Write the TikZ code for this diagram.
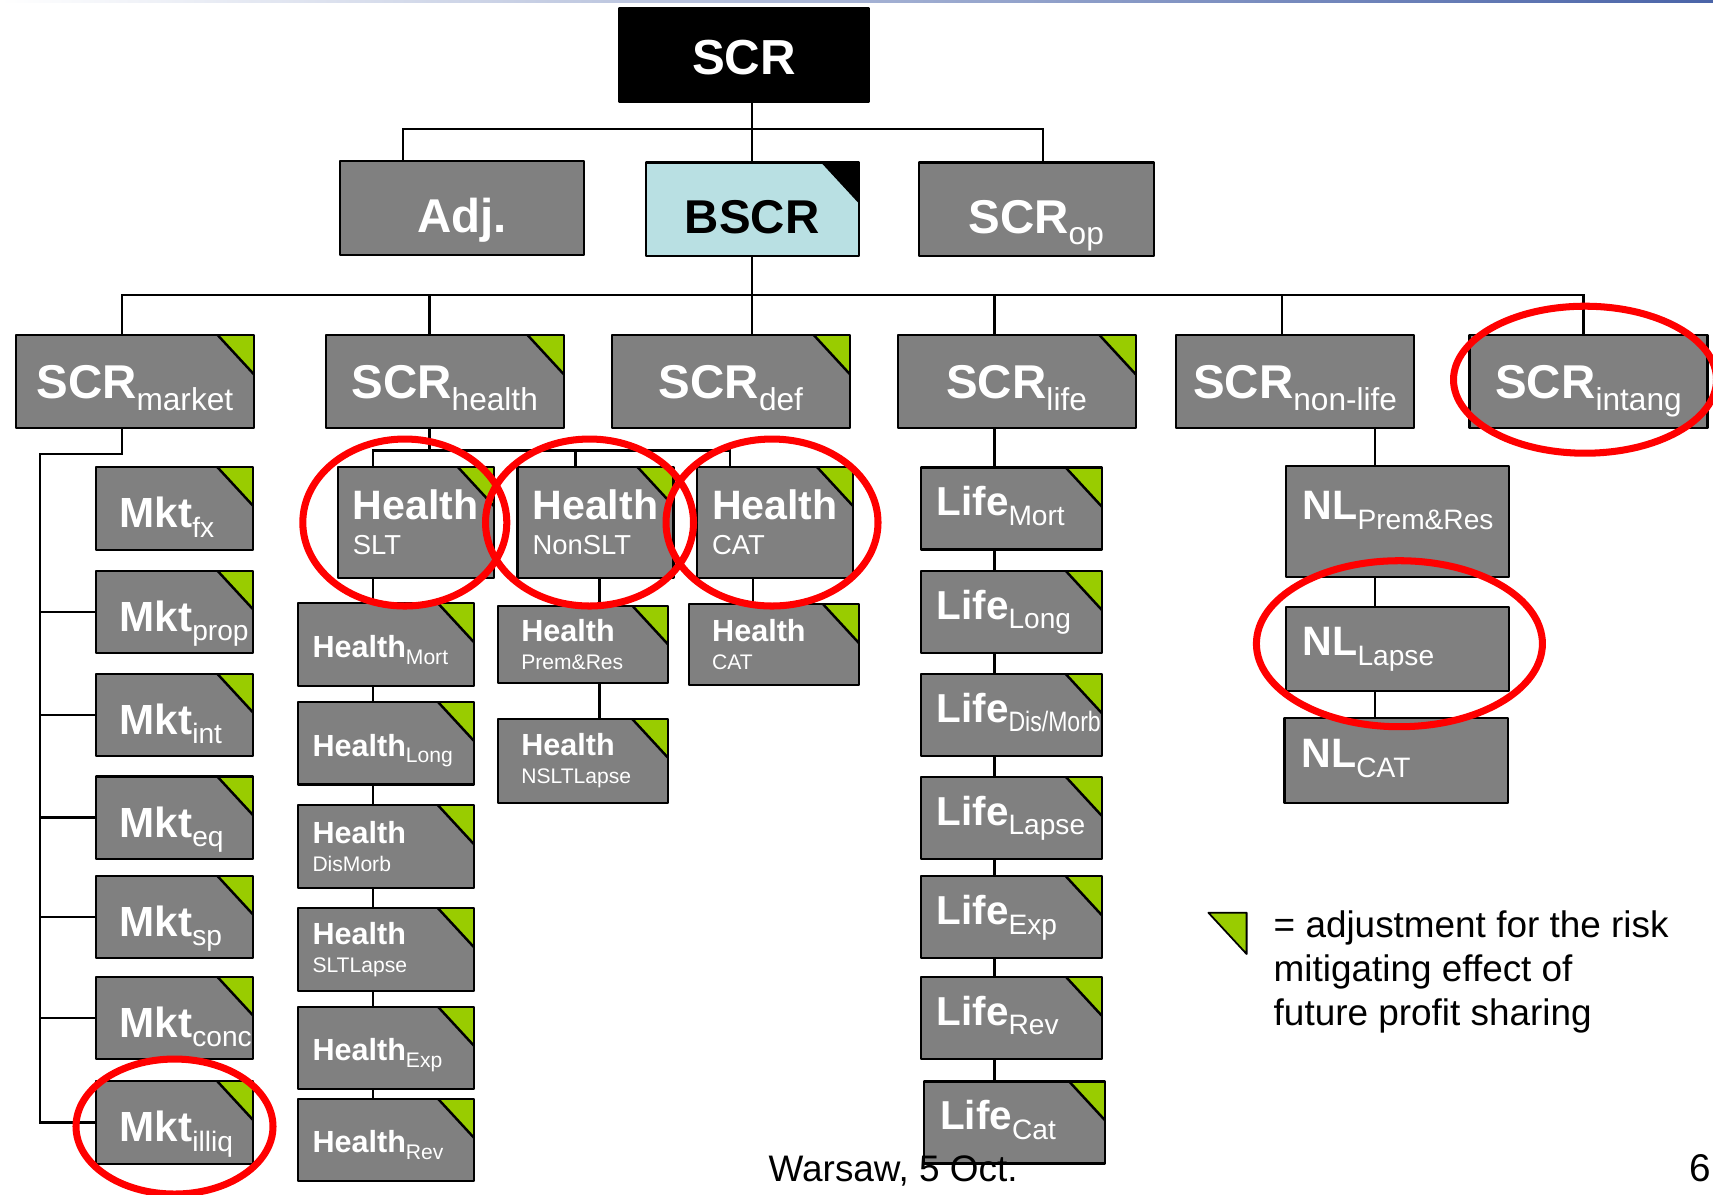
\documentclass[tikz,border=0pt]{standalone}
\usepackage{fontspec}
\setmainfont{Liberation Sans}
\usepackage{graphicx}
\usepackage{xcolor}
\usetikzlibrary{calc,backgrounds}
\definecolor{boxgray}{HTML}{808080}
\definecolor{adjgreen}{HTML}{99CC00}
\definecolor{bscrblue}{HTML}{B9E0E3}
\definecolor{ringred}{HTML}{FF0000}
\definecolor{rulerblue}{HTML}{4A64A8}
% lowered subscripts and second lines
\newcommand{\subL}[1]{\raisebox{-3.3pt}{\fontsize{9}{9}\mdseries\selectfont #1}}
\newcommand{\subM}[1]{\raisebox{-2.7pt}{\fontsize{8}{8}\mdseries\selectfont #1}}
\newcommand{\subS}[1]{\raisebox{-1.9pt}{\fontsize{6}{6}\mdseries\selectfont #1}}
\newcommand{\lineM}[1]{{\fontsize{7.8}{10}\mdseries\selectfont #1}}
\newcommand{\lineS}[1]{{\fontsize{6}{7.9}\mdseries\selectfont #1}}
\tikzset{
    every picture/.style={line cap=round,line join=round},
    corner mark/.style={path picture={
      \fill[#1] (path picture bounding box.north east) -- ++(-0.36cm,0) -- ++(0.36cm,-0.39cm) -- cycle;
      \draw[black,line width=0.7pt] ([xshift=-0.36cm]path picture bounding box.north east) -- ++(0.36cm,-0.39cm);}},
    adjusted/.style={corner mark=adjgreen},
    riskbox/.style={draw=black,fill=boxgray,line width=0.6pt,inner sep=0pt,outer sep=0pt,
      text=white,align=center},
    levelone/.style={riskbox,minimum width=2.44cm,minimum height=0.935cm,
      font=\fontsize{13.5}{16}\bfseries\selectfont,text height=13.7pt,text depth=0pt},
    leveltwo/.style={riskbox,minimum width=2.38cm,minimum height=0.93cm,
      font=\fontsize{13.5}{16}\bfseries\selectfont,text height=9.7pt,text depth=0pt},
    mktbox/.style={riskbox,adjusted,align=left,text width=1.096cm,inner xsep=0.24cm,
      minimum height=0.825cm,font=\fontsize{12}{14}\bfseries\selectfont,text height=11pt,text depth=0pt},
    lifebox/.style={riskbox,adjusted,align=left,text width=1.49cm,inner xsep=0.16cm,
      minimum height=0.82cm,font=\fontsize{11.5}{14}\bfseries\selectfont,text height=8.3pt,text depth=4.1pt},
    nlbox/.style={riskbox,align=left,text width=1.894cm,inner xsep=0.17cm,
      font=\fontsize{11.7}{14}\bfseries\selectfont,text height=8.4pt,text depth=4.4pt},
    hlead/.style={riskbox,adjusted,align=left,text width=1.26cm,inner xsep=0.15cm,
      minimum height=1.11cm,font=\fontsize{11.7}{10}\bfseries\selectfont},
    hleaf/.style={riskbox,adjusted,align=left,text width=1.47cm,inner xsep=0.145cm,
      minimum height=0.825cm,font=\fontsize{8.7}{7.9}\bfseries\selectfont},
    hnarrow/.style={text width=1.24cm,inner xsep=0.23cm},
    oneline/.style={text height=7.3pt,text depth=0pt},
    link/.style={draw=black,line width=0.7pt},
    ring/.style={draw=ringred,line width=2pt},
    notetext/.style={inner sep=0pt,align=left,font=\fontsize{10.5}{12.5}\selectfont}
}
\begin{document}
\begin{tikzpicture}
  \useasboundingbox (0,0) rectangle (17.13,-11.94);
  \shade[left color=white,right color=rulerblue] (0,0) rectangle (17.13,-0.025);

  % top of the tree
  \node[riskbox,fill=black,minimum width=2.49cm,minimum height=0.94cm,
    font=\fontsize{14}{16}\bfseries\selectfont,text height=11.2pt,text depth=0pt] (scr) at (7.44,-0.546) {SCR};
  \node[levelone] (adj) at (4.62,-2.08) {Adj.};
  \node[levelone,fill=bscrblue,text=black,minimum width=2.13cm,corner mark=black] (bscr) at (7.522,-2.092) {BSCR};
  \node[levelone,minimum width=2.35cm] (op) at (10.362,-2.092) {SCR\subL{op}};

  % risk modules
  \node[leveltwo,adjusted] (market) at (1.348,-3.817) {SCR\subL{market}};
  \node[leveltwo,adjusted] (health) at (4.447,-3.817) {SCR\subL{health}};
  \node[leveltwo,adjusted] (def) at (7.309,-3.817) {SCR\subL{def}};
  \node[leveltwo,adjusted] (life) at (10.166,-3.817) {SCR\subL{life}};
  \node[leveltwo] (nonlife) at (12.951,-3.817) {SCR\subL{non-life}};
  \node[leveltwo] (intang) at (15.885,-3.817) {SCR\subL{intang}};

  % market
  \node[mktbox] (mktfx) at (1.745,-5.083) {Mkt\subM{fx}};
  \node[mktbox] (mktprop) at (1.745,-6.118) {Mkt\subM{prop}};
  \node[mktbox] (mktint) at (1.745,-7.150) {Mkt\subM{int}};
  \node[mktbox] (mkteq) at (1.745,-8.177) {Mkt\subM{eq}};
  \node[mktbox] (mktsp) at (1.745,-9.170) {Mkt\subM{sp}};
  \node[mktbox] (mktconc) at (1.745,-10.180) {Mkt\subM{conc}};
  \node[mktbox] (mktilliq) at (1.745,-11.225) {Mkt\subM{illiq}};

  % health
  \node[hlead] (hslt) at (4.158,-5.225) {Health\\\lineM{SLT}};
  \node[hlead] (hnslt) at (5.955,-5.225) {Health\\\lineM{NonSLT}};
  \node[hlead] (hcat) at (7.750,-5.225) {Health\\\lineM{CAT}};
  \node[hleaf,oneline] (hmort) at (3.86,-6.445) {Health\subS{Mort}};
  \node[hleaf,oneline] (hlong) at (3.86,-7.432) {Health\subS{Long}};
  \node[hleaf] (hdis) at (3.86,-8.465) {Health\\\lineS{DisMorb}};
  \node[hleaf] (hsltlapse) at (3.86,-9.495) {Health\\\lineS{SLTLapse}};
  \node[hleaf,oneline] (hexp) at (3.86,-10.48) {Health\subS{Exp}};
  \node[hleaf,oneline] (hrev) at (3.86,-11.40) {Health\subS{Rev}};
  \node[hleaf,hnarrow,minimum height=0.776cm] (hprem) at (5.833,-6.445) {Health\\\lineS{Prem\&Res}};
  \node[hleaf,hnarrow,minimum height=0.837cm] (hnsltlapse) at (5.833,-7.609) {Health\\\lineS{NSLTLapse}};
  \node[hleaf,hnarrow,minimum height=0.807cm] (hcatsub) at (7.742,-6.447) {Health\\\lineS{CAT}};

  % life
  \node[lifebox] (lmort) at (10.112,-5.085) {Life\subM{Mort}};
  \node[lifebox] (llong) at (10.112,-6.118) {Life\subM{Long}};
  \node[lifebox] (ldis) at (10.112,-7.150) {Life\subM{\scalebox{0.82}[1]{Dis/Morb}}};
  \node[lifebox] (llapse) at (10.112,-8.177) {Life\subM{Lapse}};
  \node[lifebox] (lexp) at (10.112,-9.171) {Life\subM{Exp}};
  \node[lifebox] (lrev) at (10.112,-10.176) {Life\subM{Rev}};
  \node[lifebox] (lcat) at (10.147,-11.225) {Life\subM{Cat}};

  % non-life
  \node[nlbox,minimum height=1.11cm,text depth=9.4pt] (nlprem) at (13.974,-5.215) {NL\subM{Prem\&Res}};
  \node[nlbox,minimum height=0.84cm] (nllapse) at (13.974,-6.487) {NL\subM{Lapse}};
  \node[nlbox,minimum height=0.844cm] (nlcat) at (13.962,-7.605) {NL\subM{CAT}};

  \begin{scope}[on background layer]
    \coordinate (topbar) at (7.52,-1.289);
    \coordinate (riskbar) at (7.52,-2.95);
    \coordinate (healthbar) at (5.5,-4.505);
    \coordinate (mktrail) at (0.40,-4.54);
    \draw[link] (scr.south -| bscr.north) -- (bscr.north);
    \draw[link] ([xshift=-5.9mm]adj.north) |- (topbar) -| ([xshift=0.7mm]op.north);
    \draw[link] (bscr.south) -- (bscr.south |- riskbar);
    \draw[link] ([xshift=-1.3mm]market.north) |- (riskbar) -| ([xshift=-0.5mm]intang.north);
    \draw[link] ([xshift=-1.5mm]health.north) |- (riskbar);
    \draw[link] ([xshift=2.1mm]def.north) |- (riskbar);
    \draw[link] ([xshift=-2.2mm]life.north) |- (riskbar);
    \draw[link] ([xshift=-1.3mm]nonlife.north) |- (riskbar);
    % market rail
    \draw[link] ([xshift=-1.3mm]market.south) |- (mktrail) |- (mktilliq.west);
    \draw[link] (mktrail |- mktprop.west) -- (mktprop.west);
    \draw[link] (mktrail |- mktint.west) -- (mktint.west);
    \draw[link] (mktrail |- mkteq.west) -- (mkteq.west);
    \draw[link] (mktrail |- mktsp.west) -- (mktsp.west);
    \draw[link] (mktrail |- mktconc.west) -- (mktconc.west);
    % health
    \draw[link] ([xshift=-1.5mm]health.south) |- (healthbar);
    \draw[link] ([xshift=-4.3mm]hslt.north) |- (healthbar) -| ([xshift=-4.5mm]hcat.north);
    \draw[link] ([xshift=-2mm]hnslt.north) |- (healthbar);
    \coordinate (sltcol) at ([xshift=-4.3mm]hslt.south);
    \coordinate (nsltcol) at ([xshift=0.4mm]hnslt.south);
    \coordinate (catcol) at ([xshift=-2.2mm]hcat.south);
    \draw[link] (sltcol) -- (sltcol |- hrev.north);
    \draw[link] (nsltcol) -- (nsltcol |- hnsltlapse.north);
    \draw[link] (catcol) -- (catcol |- hcatsub.north);
    % life and non-life
    \coordinate (lifecol) at ([xshift=-2.2mm]life.south);
    \coordinate (nlcol) at ([xshift=8mm]nonlife.south);
    \draw[link] (lifecol) -- (lifecol |- lcat.north);
    \draw[link] (nlcol) -- (nlcol |- nlcat.north);
  \end{scope}

  % highlighted modules
  \draw[ring] ([xshift=-1.1mm]hslt.center) ellipse [x radius=1.02cm,y radius=0.835cm];
  \draw[ring] ([xshift=-0.6mm]hnslt.center) ellipse [x radius=1.04cm,y radius=0.835cm];
  \draw[ring] ([xshift=-0.3mm]hcat.center) ellipse [x radius=1.06cm,y radius=0.835cm];
  \draw[ring] ([yshift=-0.4mm]mktilliq.center) ellipse [x radius=0.985cm,y radius=0.675cm];
  \draw[ring] ([xshift=-0.35mm,yshift=0.2mm]intang.center) ellipse [x radius=1.315cm,y radius=0.735cm];
  \draw[ring] ([xshift=0.2mm,yshift=0.5mm]nllapse.center) ellipse [x radius=1.43cm,y radius=0.83cm];

  % legend
  \filldraw[fill=adjgreen,draw=black,line width=0.5pt] (12.084,-9.127) -- (12.466,-9.127) -- (12.466,-9.54) -- cycle;
  \node[notetext,anchor=north west] (legend) at (12.73,-9.10) {= adjustment for the risk\\mitigating effect of\\future profit sharing};

  \node[notetext,anchor=base west] (venue) at (7.68,-11.81) {Warsaw, 5 Oct.};
  \node[notetext,anchor=base west,font=\fontsize{11}{13}\selectfont] (pageno) at (16.89,-11.815) {6};
\end{tikzpicture}
\end{document}
